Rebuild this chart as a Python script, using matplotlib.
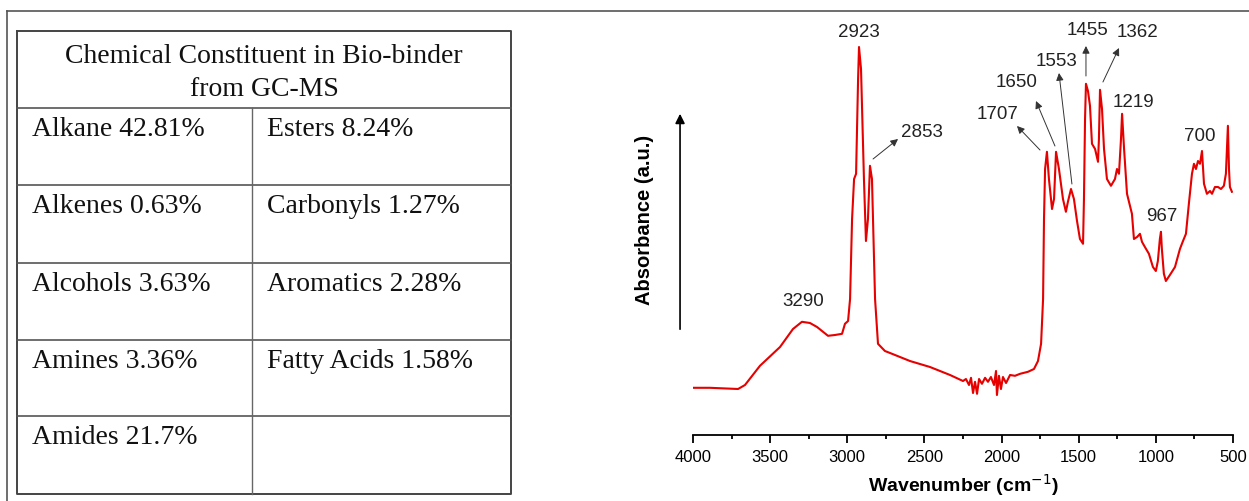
import matplotlib.pyplot as plt

# GC-MS constituents (left table)
header = "Chemical Constituent in Bio-binder\nfrom GC-MS"
col1_names = ["Alkane", "Alkenes", "Alcohols", "Amines", "Amides"]
col1_pct = ["42.81%", "0.63%", "3.63%", "3.36%", "21.7%"]
col2_names = ["Esters", "Carbonyls", "Aromatics", "Fatty Acids", ""]
col2_pct = ["8.24%", "1.27%", "2.28%", "1.58%", ""]

# FTIR spectrum (wavenumber, absorbance a.u.)
wavenumber = [4000, 3890, 3708, 3663, 3566, 3436, 3352, 3294, 3242, 3196, 3125, 3080,
              3034, 3015, 2995, 2982, 2969, 2956, 2943, 2930, 2924, 2911, 2892, 2879,
              2866, 2853, 2840, 2820, 2801, 2756, 2710, 2594, 2464, 2334, 2250,
              2231, 2211, 2198, 2185, 2172, 2159, 2146, 2127, 2107, 2088, 2069, 2049,
              2036, 2030, 2017, 2004, 1991, 1971, 1945, 1913, 1880, 1829, 1790,
              1764, 1744, 1731, 1725, 1718, 1706, 1693, 1673, 1660, 1647, 1628, 1602,
              1583, 1570, 1550, 1531, 1511, 1492, 1472, 1466, 1459, 1453, 1440, 1427,
              1414, 1394, 1375, 1369, 1362, 1349, 1336, 1317, 1291, 1265, 1252, 1239,
              1226, 1219, 1206, 1187, 1168, 1155, 1142, 1122, 1103, 1090, 1071, 1045,
              1019, 1000, 987, 974, 967, 961, 948, 935, 909, 876, 844, 824, 805, 786,
              766, 753, 740, 727, 714, 701, 688, 669, 649, 636, 617, 597, 578, 559,
              546, 533, 526, 520, 507]
absorbance = [0.118, 0.118, 0.115, 0.125, 0.173, 0.220, 0.265, 0.283, 0.280, 0.270, 0.248, 0.250,
              0.253, 0.278, 0.285, 0.340, 0.540, 0.640, 0.653, 0.890, 0.970, 0.915, 0.640, 0.485,
              0.540, 0.673, 0.640, 0.340, 0.228, 0.210, 0.203, 0.185, 0.170, 0.150, 0.135,
              0.140, 0.125, 0.143, 0.105, 0.133, 0.103, 0.140, 0.128, 0.143, 0.133, 0.145, 0.125,
              0.160, 0.100, 0.148, 0.115, 0.145, 0.130, 0.150, 0.148, 0.153, 0.158, 0.165,
              0.185, 0.228, 0.340, 0.540, 0.665, 0.708, 0.640, 0.565, 0.590, 0.708, 0.665, 0.590,
              0.558, 0.583, 0.615, 0.590, 0.535, 0.490, 0.478, 0.590, 0.790, 0.878, 0.860, 0.823,
              0.728, 0.715, 0.683, 0.740, 0.863, 0.815, 0.715, 0.640, 0.623, 0.640, 0.665, 0.653,
              0.740, 0.803, 0.715, 0.603, 0.573, 0.553, 0.490, 0.495, 0.503, 0.483, 0.470, 0.453,
              0.420, 0.410, 0.435, 0.490, 0.508, 0.465, 0.403, 0.385, 0.400, 0.420, 0.465, 0.485,
              0.503, 0.578, 0.653, 0.678, 0.665, 0.685, 0.678, 0.710, 0.628, 0.603, 0.610, 0.603,
              0.620, 0.620, 0.615, 0.623, 0.653, 0.773, 0.665, 0.620, 0.608]

# peak labels: text, text position, arrow tail, arrow head (None = no arrow)
peak_labels = ["2923", "2853", "3290", "1707", "1650", "1553", "1455", "1362", "1219", "700", "967"]
label_pos = [(2923, 1.008), (2516, 0.758), (3287, 0.335), (2023, 0.803), (1900, 0.883),
             (1647, 0.935), (1440, 1.015), (1122, 1.008), (1148, 0.835), (714, 0.748), (960, 0.548)]
arrow_tail = [None, (2833, 0.69), None, (1751, 0.7125), (1654, 0.7225),
              (1544, 0.6275), (1453, 0.8975), (1343, 0.8825), None, None, None]
arrow_head = [None, (2671, 0.74), None, (1900, 0.7725), (1777, 0.835),
              (1628, 0.905), (1453, 0.9725), (1239, 0.9675), None, None, None]

W, H = 1249, 502
fig = plt.figure(figsize=(W / 100, H / 100), dpi=100)

# background axes in pixel coordinates for frame + table
bg = fig.add_axes([0, 0, 1, 1])
bg.set_xlim(0, W)
bg.set_ylim(H, 0)
bg.axis("off")

# outer frame (top and left only)
bg.plot([7, W], [12, 12], color="#555555", lw=1.2)
bg.plot([7, 7], [12, H], color="#555555", lw=1.2)

# table
tl, tr, tt, tb = 17, 511, 32, 495
row_edges = [109, 186, 264, 341, 417]
col_x = 252
bg.plot([tl, tr, tr, tl, tl], [tt, tt, tb, tb, tt], color="#444444", lw=1.4)
for y in row_edges:
    bg.plot([tl, tr], [y, y], color="#555555", lw=1.2)
bg.plot([col_x, col_x], [row_edges[0], tb], color="#666666", lw=1.0)

serif = "Liberation Serif"
bg.text((tl + tr) / 2, 73, header, ha="center", va="center", fontsize=20,
        family=serif, linespacing=1.38, color="#111111")
for i in range(len(col1_names)):
    ytxt = row_edges[i] + 21
    bg.text(32, ytxt, (col1_names[i] + " " + col1_pct[i]).strip(), ha="left", va="center",
            fontsize=20, family=serif, color="#111111")
    bg.text(267, ytxt, (col2_names[i] + " " + col2_pct[i]).strip(), ha="left", va="center",
            fontsize=20, family=serif, color="#111111")

# spectrum axes
ax = fig.add_axes([693 / W, (H - 436) / H, 540 / W, 416 / H])
ax.plot(wavenumber, absorbance, color="#e60000", lw=1.5)
ax.set_xlim(4000, 500)
ax.set_ylim(0, 1.04)
for s in ["top", "right", "left"]:
    ax.spines[s].set_visible(False)
ax.spines["bottom"].set_linewidth(1.3)
ax.set_yticks([])
ax.set_xticks([4000, 3500, 3000, 2500, 2000, 1500, 1000, 500])
ax.set_xticks([3750, 3250, 2750, 2250, 1750, 1250, 750], minor=True)
ax.tick_params(axis="x", which="major", direction="out", length=6, width=1.3,
               labelsize=12, pad=4)
ax.tick_params(axis="x", which="minor", direction="out", length=3, width=1.3)
for lab in ax.get_xticklabels():
    lab.set_family("Liberation Sans")
ax.set_xlabel("Wavenumber (cm$^{-1}$)", fontsize=14, fontweight="bold",
              family="Liberation Sans", labelpad=5)
ax.patch.set_alpha(0)

# y-axis label and arrow
fig.text(645 / W, 1 - 220 / H, "Absorbance (a.u.)", rotation=90, ha="center", va="center",
         fontsize=14.5, fontweight="bold", family="Liberation Sans")
ax.annotate("", xy=(4084, 0.81), xytext=(4084, 0.2575), xycoords="data",
            arrowprops=dict(arrowstyle="-|>", color="black", lw=1.2, mutation_scale=14),
            annotation_clip=False)

for i, txt in enumerate(peak_labels):
    ax.text(label_pos[i][0], label_pos[i][1], txt, ha="center", va="center",
            fontsize=13.5, family="Liberation Sans", color="#222222", clip_on=False)
    if arrow_tail[i] is not None:
        ax.annotate("", xy=arrow_head[i], xytext=arrow_tail[i],
                    arrowprops=dict(arrowstyle="-|>", color="#333333", lw=0.7,
                                    mutation_scale=11, shrinkA=0, shrinkB=0),
                    annotation_clip=False)

fig.savefig("out.png", dpi=100)
